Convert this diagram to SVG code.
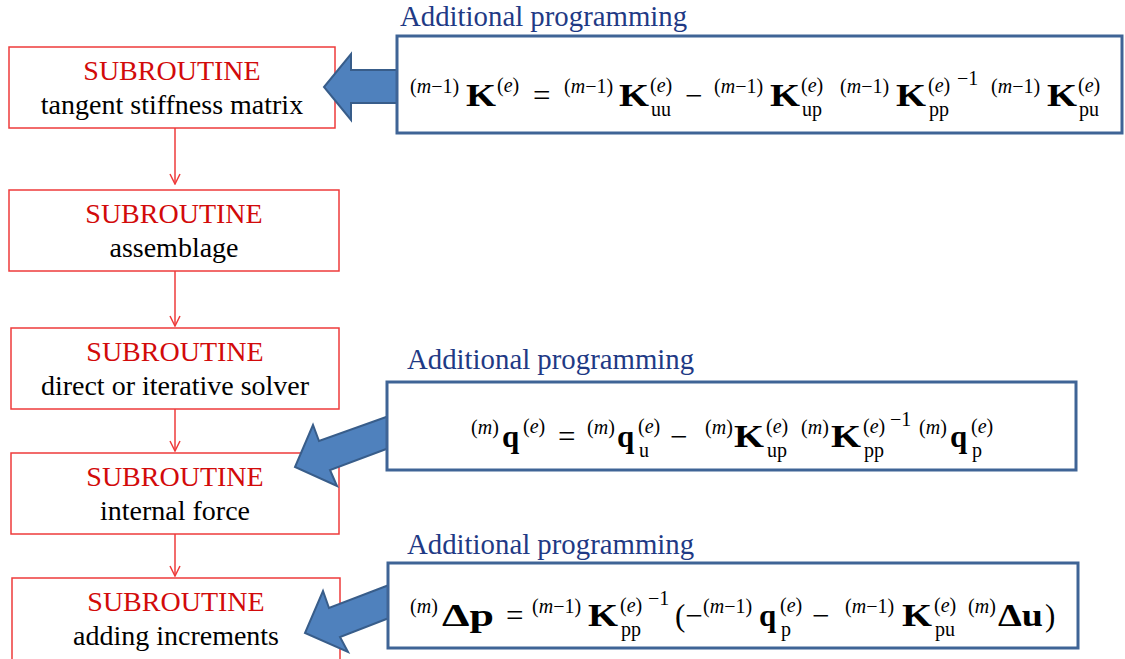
<svg xmlns="http://www.w3.org/2000/svg" width="1125" height="659" viewBox="0 0 1125 659">
<style>
text{font-family:'Liberation Serif','Times New Roman',Times,'DejaVu Serif',serif}
.sub{fill:#fff;stroke:#EE3B3B;stroke-width:1.5}
.t1{font-size:28px;fill:#D20A0A;text-anchor:middle}
.t2{font-size:28px;fill:#000;text-anchor:middle}
.ttl{font-size:28.8px;fill:#1F3A85}
.eqb{fill:#fff;stroke:#3F6496;stroke-width:3}
.big{fill:#4F81BD;stroke:#385D8A;stroke-width:2;stroke-linejoin:miter}
.con{stroke:#EE3B3B;stroke-width:1.5;fill:none}
.mb{font-weight:bold;font-size:31px;fill:#000}
.mr{font-size:31px;fill:#000}
.s{font-size:20px;fill:#000}
.i{font-style:italic}
</style>
<defs>
<marker id="chev" viewBox="0 0 12 12" refX="11" refY="6" markerWidth="12" markerHeight="12" markerUnits="userSpaceOnUse" orient="auto">
<path d="M1,1 L11,6 L1,11" fill="none" stroke="#EE3B3B" stroke-width="1.5"/>
</marker>
</defs>
<rect width="1125" height="659" fill="#fff"/>

<g id="connectors">
<line class="con" x1="175" y1="128" x2="175" y2="184" marker-end="url(#chev)"/>
<line class="con" x1="175" y1="271" x2="175" y2="326" marker-end="url(#chev)"/>
<line class="con" x1="175" y1="409" x2="175" y2="451" marker-end="url(#chev)"/>
<line class="con" x1="175" y1="534" x2="175" y2="576" marker-end="url(#chev)"/>
</g>

<g id="node-tangent">
<rect class="sub" x="9" y="47" width="326" height="81"/>
<text class="t1" x="172" y="80">SUBROUTINE</text>
<text class="t2" x="172" y="114">tangent stiffness matrix</text>
</g>
<g id="node-assemblage">
<rect class="sub" x="9" y="190" width="330" height="81"/>
<text class="t1" x="174" y="223">SUBROUTINE</text>
<text class="t2" x="174" y="257">assemblage</text>
</g>
<g id="node-solver">
<rect class="sub" x="11" y="328" width="328" height="81"/>
<text class="t1" x="175" y="361">SUBROUTINE</text>
<text class="t2" x="175" y="395">direct or iterative solver</text>
</g>
<g id="node-internal">
<rect class="sub" x="11" y="453" width="328" height="81"/>
<text class="t1" x="175" y="486">SUBROUTINE</text>
<text class="t2" x="175" y="520">internal force</text>
</g>
<g id="node-increments">
<rect class="sub" x="12" y="578" width="328" height="95"/>
<text class="t1" x="176" y="611">SUBROUTINE</text>
<text class="t2" x="176" y="645">adding increments</text>
</g>

<g id="block-arrows">
<polygon class="big" points="399,70 351,70 351,54 324,87 351,120 351,103 399,103"/>
<polygon class="big" points="389,416 319,441 313,425 295,467 337,486 330,470 389,448"/>
<polygon class="big" points="389,585 329,608 323,591 305,633 348,652 340,637 389,618"/>
</g>

<g id="eq1">
<text class="ttl" x="400" y="26">Additional programming</text>
<rect class="eqb" x="397" y="36" width="725" height="97"/>
<text class="s" x="410" y="93">(<tspan class="i">m</tspan>−1)</text>
<text class="mb" x="466" y="106" textLength="30" lengthAdjust="spacingAndGlyphs">K</text>
<text class="s" x="497" y="92">(<tspan class="i">e</tspan>)</text>
<text class="mr" x="533" y="106">=</text>
<text class="s" x="564" y="93">(<tspan class="i">m</tspan>−1)</text>
<text class="mb" x="619" y="106" textLength="30" lengthAdjust="spacingAndGlyphs">K</text>
<text class="s" x="650" y="92">(<tspan class="i">e</tspan>)</text>
<text class="s" x="651" y="116">uu</text>
<text class="mr" x="685" y="106">−</text>
<text class="s" x="714" y="93">(<tspan class="i">m</tspan>−1)</text>
<text class="mb" x="770" y="106" textLength="30" lengthAdjust="spacingAndGlyphs">K</text>
<text class="s" x="801" y="92">(<tspan class="i">e</tspan>)</text>
<text class="s" x="802" y="116">up</text>
<text class="s" x="840" y="93">(<tspan class="i">m</tspan>−1)</text>
<text class="mb" x="896" y="106" textLength="30" lengthAdjust="spacingAndGlyphs">K</text>
<text class="s" x="928" y="92">(<tspan class="i">e</tspan>)</text>
<text class="s" x="929" y="116">pp</text>
<text class="s" x="957" y="85">−1</text>
<text class="s" x="991" y="93">(<tspan class="i">m</tspan>−1)</text>
<text class="mb" x="1047" y="106" textLength="30" lengthAdjust="spacingAndGlyphs">K</text>
<text class="s" x="1078" y="92">(<tspan class="i">e</tspan>)</text>
<text class="s" x="1079" y="116">pu</text>
</g>

<g id="eq2">
<text class="ttl" x="407" y="369">Additional programming</text>
<rect class="eqb" x="387" y="382" width="689" height="88"/>
<text class="s" x="471" y="434">(<tspan class="i">m</tspan>)</text>
<text class="mb" x="502" y="447">q</text>
<text class="s" x="523" y="433">(<tspan class="i">e</tspan>)</text>
<text class="mr" x="558" y="447">=</text>
<text class="s" x="587" y="434">(<tspan class="i">m</tspan>)</text>
<text class="mb" x="617" y="447">q</text>
<text class="s" x="638" y="433">(<tspan class="i">e</tspan>)</text>
<text class="s" x="639" y="457">u</text>
<text class="mr" x="670" y="447">−</text>
<text class="s" x="705" y="434">(<tspan class="i">m</tspan>)</text>
<text class="mb" x="734" y="447" textLength="30" lengthAdjust="spacingAndGlyphs">K</text>
<text class="s" x="766" y="433">(<tspan class="i">e</tspan>)</text>
<text class="s" x="767" y="457">up</text>
<text class="s" x="801" y="434">(<tspan class="i">m</tspan>)</text>
<text class="mb" x="831" y="447" textLength="30" lengthAdjust="spacingAndGlyphs">K</text>
<text class="s" x="863" y="433">(<tspan class="i">e</tspan>)</text>
<text class="s" x="864" y="457">pp</text>
<text class="s" x="890" y="426">−1</text>
<text class="s" x="919" y="434">(<tspan class="i">m</tspan>)</text>
<text class="mb" x="950" y="447">q</text>
<text class="s" x="971" y="433">(<tspan class="i">e</tspan>)</text>
<text class="s" x="972" y="457">p</text>
</g>

<g id="eq3">
<text class="ttl" x="407" y="554">Additional programming</text>
<rect class="eqb" x="388" y="563" width="690" height="85"/>
<text class="s" x="410" y="613">(<tspan class="i">m</tspan>)</text>
<text class="mb" x="442" y="626" textLength="52" lengthAdjust="spacingAndGlyphs">Δp</text>
<text class="mr" x="506" y="626">=</text>
<text class="s" x="532" y="613">(<tspan class="i">m</tspan>−1)</text>
<text class="mb" x="588" y="626" textLength="30" lengthAdjust="spacingAndGlyphs">K</text>
<text class="s" x="620" y="612">(<tspan class="i">e</tspan>)</text>
<text class="s" x="621" y="636">pp</text>
<text class="s" x="648" y="605">−1</text>
<text class="mr" x="675" y="626">(−</text>
<text class="s" x="703" y="613">(<tspan class="i">m</tspan>−1)</text>
<text class="mb" x="759" y="626">q</text>
<text class="s" x="780" y="612">(<tspan class="i">e</tspan>)</text>
<text class="s" x="781" y="636">p</text>
<text class="mr" x="812" y="626">−</text>
<text class="s" x="845" y="613">(<tspan class="i">m</tspan>−1)</text>
<text class="mb" x="902" y="626" textLength="30" lengthAdjust="spacingAndGlyphs">K</text>
<text class="s" x="934" y="612">(<tspan class="i">e</tspan>)</text>
<text class="s" x="935" y="636">pu</text>
<text class="s" x="968" y="613">(<tspan class="i">m</tspan>)</text>
<text class="mb" x="998" y="626" textLength="45" lengthAdjust="spacingAndGlyphs">Δu</text>
<text class="mr" x="1045" y="626">)</text>
</g>
</svg>
